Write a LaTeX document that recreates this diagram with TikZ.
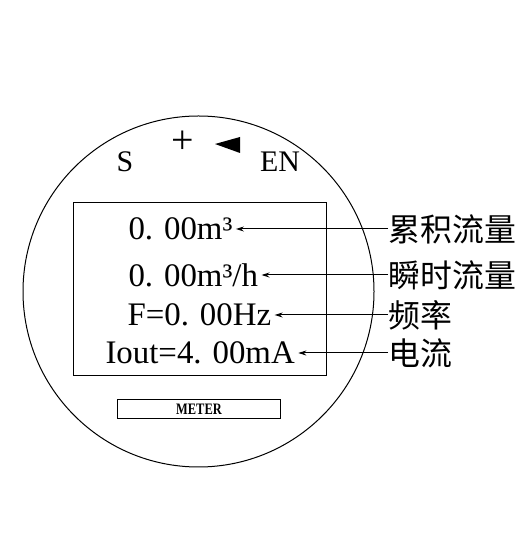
\documentclass[tikz,border=0pt]{standalone}
\usepackage{fontspec}
\usetikzlibrary{arrows.meta}
\setmainfont{Liberation Serif}
\newfontfamily\cjk{Noto Sans CJK SC}
\begin{document}
\begin{tikzpicture}[x=1bp,y=1bp,line width=1bp]
	\tikzset{
		reading/.style={anchor=west,inner sep=3bp,font=\fontsize{33}{33}\selectfont},
		cnlabel/.style={anchor=west,inner sep=0pt,font=\cjk\fontsize{32}{32}\selectfont},
		pointer/.style={->,>={Stealth[length=8bp,width=5bp]}},
	}
	\useasboundingbox (0,0) rectangle (531,534);
	\def\r{175.5} %radius of meter face
	
	%FACE AND SCREEN
	\draw (198.5,242.5) circle (\r);
	\draw (73,158) rectangle (326,331);
	\draw (117,115) rectangle (280,134);
	\node[font=\bfseries\fontsize{16}{16}\selectfont,xscale=0.78] (meter) at (199,124.5) {METER};
	
	%KEYS
	\node[font=\fontsize{30}{30}\selectfont] (s) at (125,372) {S};
	\node[font=\fontsize{40}{40}\selectfont] (plus) at (183,392) {+};
	\fill (215,390) -- (240,397) -- (240,381) -- cycle;
	\node[font=\fontsize{30}{30}\selectfont] (en) at (280,372) {EN};
	
	%READINGS
	\node[reading] (total) at (125,305) {0. 00m³};
	\node[reading] (rate) at (125,259) {0. 00m³/h};
	\node[reading] (freq) at (124,219) {F=0. 00Hz};
	\node[reading] (iout) at (102,181) {Iout=4. 00mA};
	
	%LABELS
	\node[cnlabel] (ltotal) at (388,305) {累积流量};
	\node[cnlabel] (lrate) at (388,259) {瞬时流量};
	\node[cnlabel] (lfreq) at (388,219) {频率};
	\node[cnlabel] (liout) at (388,181) {电流};
	
	%POINTERS
	\draw[pointer] (ltotal.west)--(ltotal.west -| total.east);
	\draw[pointer] (lrate.west)--(lrate.west -| rate.east);
	\draw[pointer] (lfreq.west)--(lfreq.west -| freq.east);
	\draw[pointer] (liout.west)--(liout.west -| iout.east);
\end{tikzpicture}
\end{document}
